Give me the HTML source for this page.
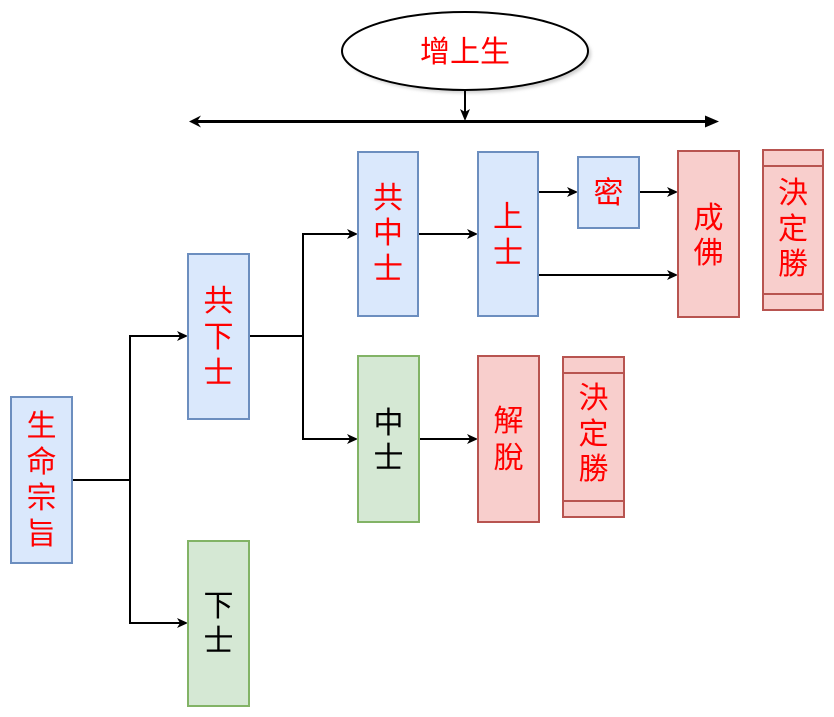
<!DOCTYPE html>
<html><head><meta charset="utf-8"><style>
html,body{margin:0;padding:0;background:#fff;}
svg{display:block;}
text{font-family:"Liberation Sans","Noto Sans CJK TC","Noto Sans CJK SC",sans-serif;font-size:30px;text-anchor:middle;}
.r{fill:#ff0000;}
.k{fill:#000;}
</style></head><body>
<svg width="834" height="717" viewBox="0 0 834 717" xmlns="http://www.w3.org/2000/svg">
<defs>
<filter id="sh" x="-10%" y="-10%" width="130%" height="140%"><feGaussianBlur stdDeviation="1.5"/></filter>
</defs>

<!-- ellipse -->
<ellipse cx="468" cy="54" rx="123" ry="39" fill="#bbb" filter="url(#sh)" opacity="0.7"/>
<ellipse cx="465" cy="51" rx="123" ry="39" fill="#fff" stroke="#000" stroke-width="2"/>
<text x="465" y="62" class="r" font-size="30">增上生</text>

<!-- vertical arrow from ellipse -->
<line x1="465" y1="90" x2="465" y2="112" stroke="#000" stroke-width="2"/>
<path d="M465,121 L460,109 L465,112 L470,109 Z" fill="#000"/>
<!-- horizontal double arrow -->
<line x1="196" y1="121.5" x2="708" y2="121.5" stroke="#000" stroke-width="3"/>
<path d="M189,121.5 L201,115.5 L197,121.5 L201,127.5 Z" fill="#000"/>
<path d="M719,121.5 L705,115.5 L705,127.5 Z" fill="#000"/>

<!-- connectors -->
<g stroke="#000" stroke-width="2" fill="none">
<polyline points="72,480 130,480 130,336 180,336"/>
<polyline points="130,480 130,623 180,623"/>
<polyline points="249,336 303,336 303,234 350,234"/>
<polyline points="303,336 303,439 350,439"/>
<line x1="418" y1="234" x2="470" y2="234"/>
<line x1="538" y1="192" x2="570" y2="192"/>
<line x1="639" y1="192" x2="670" y2="192"/>
<line x1="538" y1="275" x2="670" y2="275"/>
<line x1="419" y1="439" x2="470" y2="439"/>
</g>
<g fill="#000">
<path d="M188,336 L177,331 L180,336 L177,341 Z"/>
<path d="M188,623 L177,618 L180,623 L177,628 Z"/>
<path d="M358,234 L347,229 L350,234 L347,239 Z"/>
<path d="M358,439 L347,434 L350,439 L347,444 Z"/>
<path d="M478,234 L467,229 L470,234 L467,239 Z"/>
<path d="M578,192 L567,187 L570,192 L567,197 Z"/>
<path d="M678,192 L667,187 L670,192 L667,197 Z"/>
<path d="M678,275 L667,270 L670,275 L667,280 Z"/>
<path d="M478,439 L467,434 L470,439 L467,444 Z"/>
</g>

<!-- boxes -->
<g stroke-width="2">
<rect x="11" y="397" width="61" height="166" fill="#dae8fc" stroke="#6c8ebf"/>
<rect x="188" y="254" width="61" height="165" fill="#dae8fc" stroke="#6c8ebf"/>
<rect x="188" y="541" width="61" height="165" fill="#d5e8d4" stroke="#82b366"/>
<rect x="358" y="152" width="60" height="164" fill="#dae8fc" stroke="#6c8ebf"/>
<rect x="478" y="152" width="60" height="164" fill="#dae8fc" stroke="#6c8ebf"/>
<rect x="578" y="157" width="61" height="71" fill="#dae8fc" stroke="#6c8ebf"/>
<rect x="678" y="151" width="61" height="166" fill="#f8cecc" stroke="#b85450"/>
<rect x="763" y="150" width="60" height="160" fill="#f8cecc" stroke="#b85450"/>
<line x1="763" y1="166" x2="823" y2="166" stroke="#b85450"/>
<line x1="763" y1="294" x2="823" y2="294" stroke="#b85450"/>
<rect x="358" y="356" width="61" height="166" fill="#d5e8d4" stroke="#82b366"/>
<rect x="478" y="356" width="61" height="166" fill="#f8cecc" stroke="#b85450"/>
<rect x="563" y="357" width="61" height="160" fill="#f8cecc" stroke="#b85450"/>
<line x1="563" y1="373" x2="624" y2="373" stroke="#b85450"/>
<line x1="563" y1="501" x2="624" y2="501" stroke="#b85450"/>
</g>

<!-- labels -->
<g font-size="30">
<text x="41.5" y="436" class="r">生</text>
<text x="41.5" y="472" class="r">命</text>
<text x="41.5" y="508" class="r">宗</text>
<text x="41.5" y="544" class="r">旨</text>

<text x="218.5" y="311" class="r">共</text>
<text x="218.5" y="347" class="r">下</text>
<text x="218.5" y="383" class="r">士</text>

<text x="388" y="208" class="r">共</text>
<text x="388" y="243" class="r">中</text>
<text x="388" y="279" class="r">士</text>

<text x="508" y="227" class="r">上</text>
<text x="508" y="263" class="r">士</text>

<text x="608.5" y="203" class="r">密</text>

<text x="708.5" y="228" class="r">成</text>
<text x="708.5" y="263" class="r">佛</text>

<text x="793" y="203" class="r">決</text>
<text x="793" y="239" class="r">定</text>
<text x="793" y="274" class="r">勝</text>

<text x="508.5" y="431" class="r">解</text>
<text x="508.5" y="468" class="r">脫</text>

<text x="593.5" y="408" class="r">決</text>
<text x="593.5" y="444" class="r">定</text>
<text x="593.5" y="479" class="r">勝</text>

<text x="218.5" y="616" class="k">下</text>
<text x="218.5" y="651" class="k">士</text>
<text x="388.5" y="433" class="k">中</text>
<text x="388.5" y="468" class="k">士</text>
</g>
</svg>
</body></html>
